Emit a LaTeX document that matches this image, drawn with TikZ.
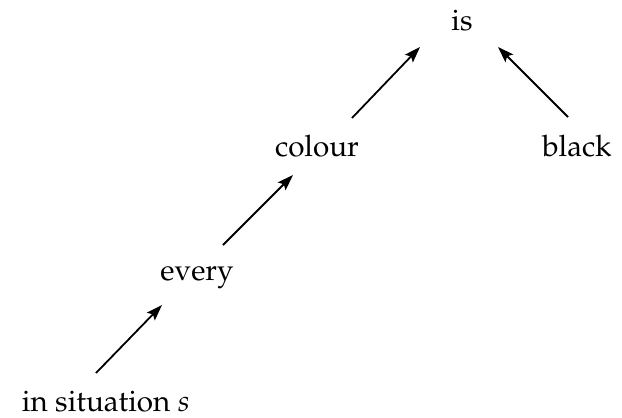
\documentclass[tikz,border=0pt]{standalone}
\usepackage[T1]{fontenc}
\usepackage{mathpazo}
\usetikzlibrary{arrows.meta}
\begin{document}
\begin{tikzpicture}[x=1pt,y=-1pt,
  word/.style={anchor=base,inner sep=0pt,font=\fontsize{29.6}{34}\selectfont},
  arr/.style={line width=1.8pt,-{Stealth[length=16pt,width=11pt,inset=3pt]}}]
\useasboundingbox (0,0) rectangle (622,418);
\node[word] (is) at (462,30) {is};
\node[word] (black) at (577,156) {black};
\node[word] (colour) at (317,156) {colour};
\node[word] (every) at (197,280) {every};
\node[word] (sit) at (106,411) {in situation $s$};
\draw[arr] ([shift={(35,-38)}]colour.base) -- ([shift={(-42,17)}]is.base);
\draw[arr] ([shift={(-9,-39)}]black.base) -- ([shift={(36,17)}]is.base);
\draw[arr] ([shift={(26,-35)}]every.base) -- ([shift={(-24,19)}]colour.base);
\draw[arr] ([shift={(-10,-38)}]sit.base) -- ([shift={(-35,25)}]every.base);
\end{tikzpicture}
\end{document}
